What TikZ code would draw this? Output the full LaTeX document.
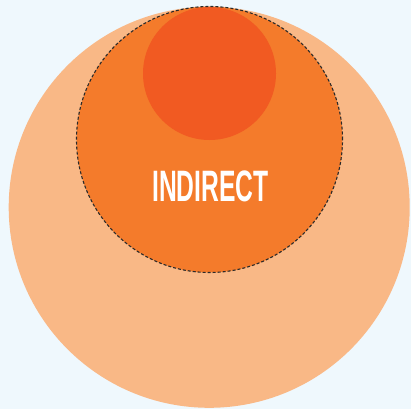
\documentclass[tikz,border=0pt]{standalone}
\usepackage{fontspec}
\setmainfont{Liberation Sans}
\definecolor{bg}{HTML}{EFF8FD}
\definecolor{peach}{HTML}{F9B886}
\definecolor{midorange}{HTML}{F47B2B}
\definecolor{redorange}{HTML}{F15A22}
\definecolor{dashgray}{HTML}{2A2A2A}
\tikzset{
  disc/.style={circle, inner sep=0pt, draw=none},
  label text/.style={text=white, font=\bfseries\fontsize{44}{44}\selectfont, inner sep=0pt}
}
\begin{document}
\begin{tikzpicture}[x=1pt,y=-1pt]
\fill[bg] (0,0) rectangle (411,409);
\useasboundingbox (0,0) rectangle (411,409);
\node[disc, fill=peach, minimum size=401pt] (outer) at (209.2,207.3) {};
\node[disc, fill=midorange, minimum size=266pt] (middle) at (209.5,139.5) {};
\node[disc, fill=redorange, minimum size=133pt] (inner) at (209.5,73.5) {};
\draw[dashgray, line width=1.1pt, dash pattern=on 3pt off 2pt] (middle.center) circle[radius=133pt];
\node[label text, anchor=base] (lbl) at (210.5,201.7) {\scalebox{0.56}[1]{INDIRECT}};
\end{tikzpicture}
\end{document}
